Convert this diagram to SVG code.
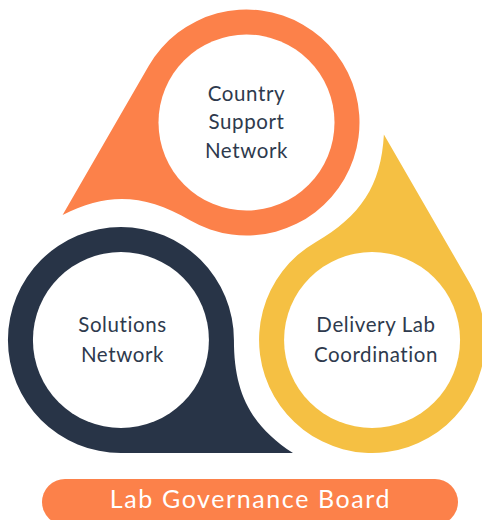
<svg xmlns="http://www.w3.org/2000/svg" xmlns:xlink="http://www.w3.org/1999/xlink" width="482" height="520" viewBox="0 0 482 520">
  <style>
    .lbl { font-family: Lato, "Open Sans", "Liberation Sans", sans-serif; font-size: 20.5px; fill: #2E3A4D; text-anchor: middle; letter-spacing: 0.6px; }
    .board { font-family: Lato, "Open Sans", "Liberation Sans", sans-serif; font-size: 25px; fill: #FFFFFF; text-anchor: middle; letter-spacing: 1.6px; }
    .hole { fill: #FFFFFF; }
  </style>
  <defs>
    <path id="drop" d="M 233.93,340 C 233.93,392 250,425 293,453 L 120.93,453 A 113 113 0 1 1 233.93,340 Z"/>
  </defs>
  <rect width="482" height="520" fill="#FFFFFF"/>
  <g id="node-country-support">
    <use xlink:href="#drop" href="#drop" fill="#FC814A" transform="rotate(120 246.5 267.5)"/>
    <circle class="hole" cx="246.5" cy="122.5" r="88"/>
    <text class="lbl" x="246.5" y="100.5">Country</text>
    <text class="lbl" x="246.5" y="129">Support</text>
    <text class="lbl" x="246.5" y="157.5">Network</text>
  </g>
  <g id="node-solutions">
    <use xlink:href="#drop" href="#drop" fill="#283447"/>
    <circle class="hole" cx="120.93" cy="340" r="88"/>
    <text class="lbl" x="122.5" y="331.5">Solutions</text>
    <text class="lbl" x="122.5" y="361.5">Network</text>
  </g>
  <g id="node-delivery-lab">
    <use xlink:href="#drop" href="#drop" fill="#F5C043" transform="rotate(-120 246.5 267.5)"/>
    <circle class="hole" cx="372.07" cy="340" r="88"/>
    <text class="lbl" x="376" y="332">Delivery Lab</text>
    <text class="lbl" x="376" y="361.5">Coordination</text>
  </g>
  <g id="node-board">
    <rect x="42" y="479" width="416" height="46" rx="23" fill="#FC814A"/>
    <text class="board" x="250.5" y="507.5">Lab Governance Board</text>
  </g>
  <g id="connectors"/>
</svg>
